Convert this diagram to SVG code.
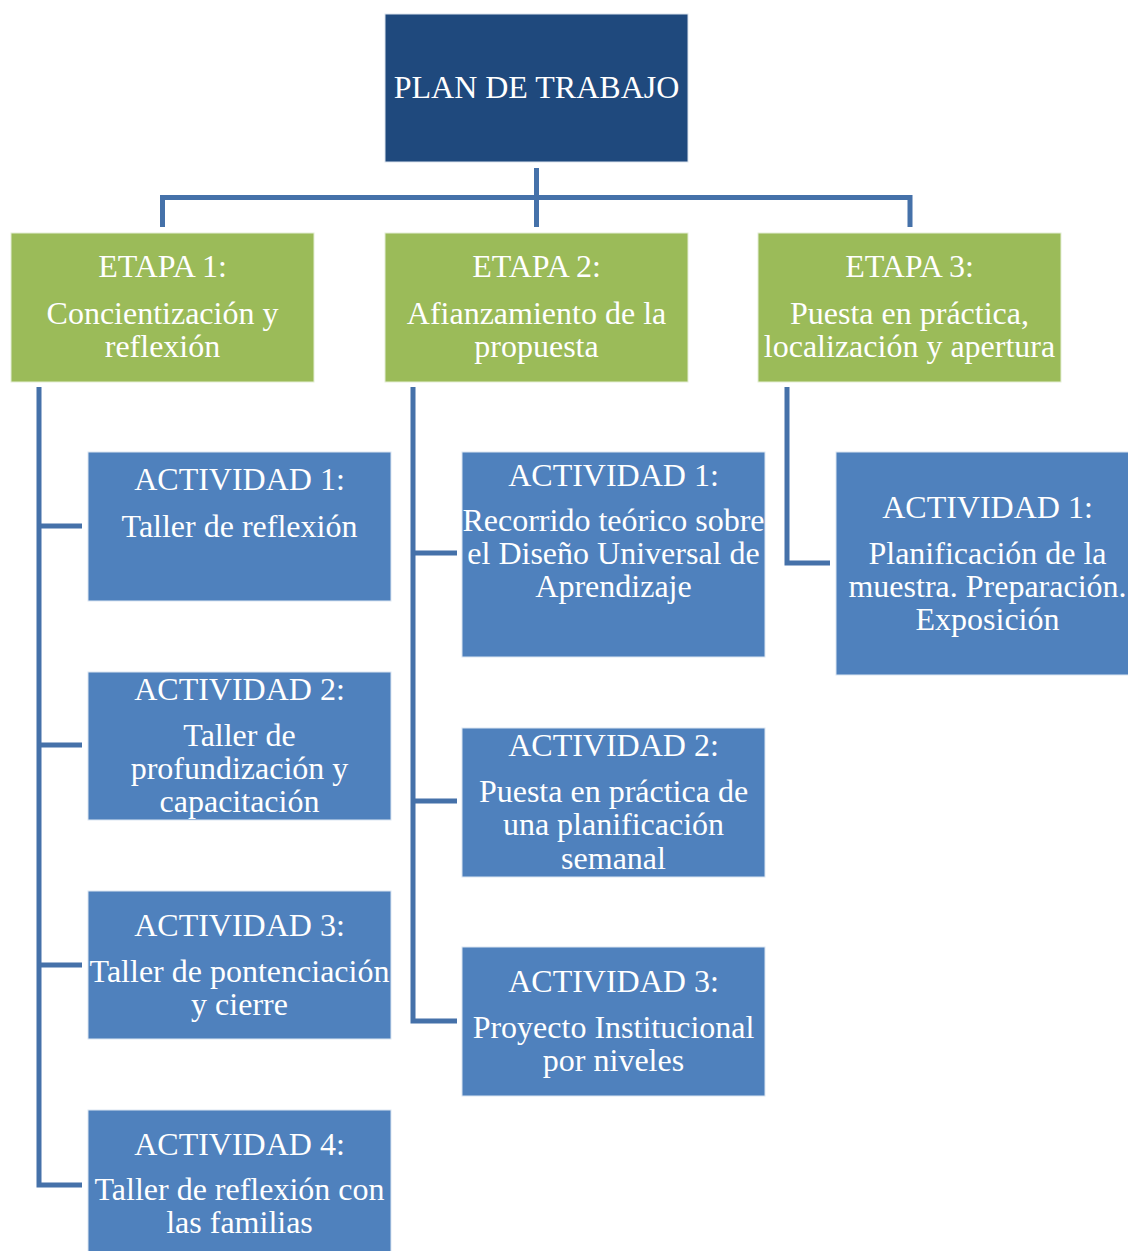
<svg xmlns="http://www.w3.org/2000/svg" width="1128" height="1251" viewBox="0 0 1128 1251">
<style>
.t{font-family:"Liberation Serif","Times New Roman",serif;font-size:32px;fill:#ffffff;text-anchor:middle}
.title{fill:#1F497D;stroke:#dbe3ee;stroke-width:1}
.etapa{fill:#9BBB59;stroke:#e4eed5;stroke-width:1}
.act{fill:#4F81BD;stroke:#dce6f2;stroke-width:1}
.c{fill:none;stroke:#4571A9;stroke-width:5;stroke-linejoin:miter}
</style>
<rect width="1128" height="1251" fill="#ffffff"/>
<g id="connectors">
<path class="c" d="M536.5 168 V227"/>
<path class="c" d="M162.5 227 V197.5 H910 V227"/>
<path class="c" d="M39 387 V1185 H82"/>
<path class="c" d="M39 526 H82"/>
<path class="c" d="M39 745 H82"/>
<path class="c" d="M39 965 H82"/>
<path class="c" d="M413 387 V1021 H457"/>
<path class="c" d="M413 553 H457"/>
<path class="c" d="M413 801 H457"/>
<path class="c" d="M787 387 V563 H830"/>
</g>
<g id="plan">
<rect class="title" x="385" y="14" width="303" height="148"/>
<text class="t" x="536.5" y="98">PLAN DE TRABAJO</text>
</g>
<g id="etapa1">
<rect class="etapa" x="11" y="233" width="303" height="149"/>
<text class="t" x="162.5" y="277">ETAPA 1:</text>
<text class="t" x="162.5" y="324">Concientización y</text>
<text class="t" x="162.5" y="357">reflexión</text>
</g>
<g id="etapa2">
<rect class="etapa" x="385" y="233" width="303" height="149"/>
<text class="t" x="536.5" y="277">ETAPA 2:</text>
<text class="t" x="536.5" y="324">Afianzamiento de la</text>
<text class="t" x="536.5" y="357">propuesta</text>
</g>
<g id="etapa3">
<rect class="etapa" x="758" y="233" width="303" height="149"/>
<text class="t" x="909.5" y="277">ETAPA 3:</text>
<text class="t" x="909.5" y="324">Puesta en práctica,</text>
<text class="t" x="909.5" y="357">localización y apertura</text>
</g>
<g id="e1a1">
<rect class="act" x="88" y="452" width="303" height="149"/>
<text class="t" x="239.5" y="490">ACTIVIDAD 1:</text>
<text class="t" x="239.5" y="537">Taller de reflexión</text>
</g>
<g id="e1a2">
<rect class="act" x="88" y="672" width="303" height="148"/>
<text class="t" x="239.5" y="700">ACTIVIDAD 2:</text>
<text class="t" x="239.5" y="746">Taller de</text>
<text class="t" x="239.5" y="779">profundización y</text>
<text class="t" x="239.5" y="812">capacitación</text>
</g>
<g id="e1a3">
<rect class="act" x="88" y="891" width="303" height="148"/>
<text class="t" x="239.5" y="936">ACTIVIDAD 3:</text>
<text class="t" x="239.5" y="982">Taller de pontenciación</text>
<text class="t" x="239.5" y="1015">y cierre</text>
</g>
<g id="e1a4">
<rect class="act" x="88" y="1110" width="303" height="148"/>
<text class="t" x="239.5" y="1155">ACTIVIDAD 4:</text>
<text class="t" x="239.5" y="1200">Taller de reflexión con</text>
<text class="t" x="239.5" y="1233">las familias</text>
</g>
<g id="e2a1">
<rect class="act" x="462" y="452" width="303" height="205"/>
<text class="t" x="613.5" y="486">ACTIVIDAD 1:</text>
<text class="t" x="613.5" y="531">Recorrido teórico sobre</text>
<text class="t" x="613.5" y="564">el Diseño Universal de</text>
<text class="t" x="613.5" y="597">Aprendizaje</text>
</g>
<g id="e2a2">
<rect class="act" x="462" y="728" width="303" height="149"/>
<text class="t" x="613.5" y="756">ACTIVIDAD 2:</text>
<text class="t" x="613.5" y="802">Puesta en práctica de</text>
<text class="t" x="613.5" y="835">una planificación</text>
<text class="t" x="613.5" y="869">semanal</text>
</g>
<g id="e2a3">
<rect class="act" x="462" y="947" width="303" height="149"/>
<text class="t" x="613.5" y="992">ACTIVIDAD 3:</text>
<text class="t" x="613.5" y="1038">Proyecto Institucional</text>
<text class="t" x="613.5" y="1071">por niveles</text>
</g>
<g id="e3a1">
<rect class="act" x="836" y="452" width="303" height="223"/>
<text class="t" x="987.5" y="518">ACTIVIDAD 1:</text>
<text class="t" x="987.5" y="564">Planificación de la</text>
<text class="t" x="987.5" y="597">muestra. Preparación.</text>
<text class="t" x="987.5" y="630">Exposición</text>
</g>
</svg>
